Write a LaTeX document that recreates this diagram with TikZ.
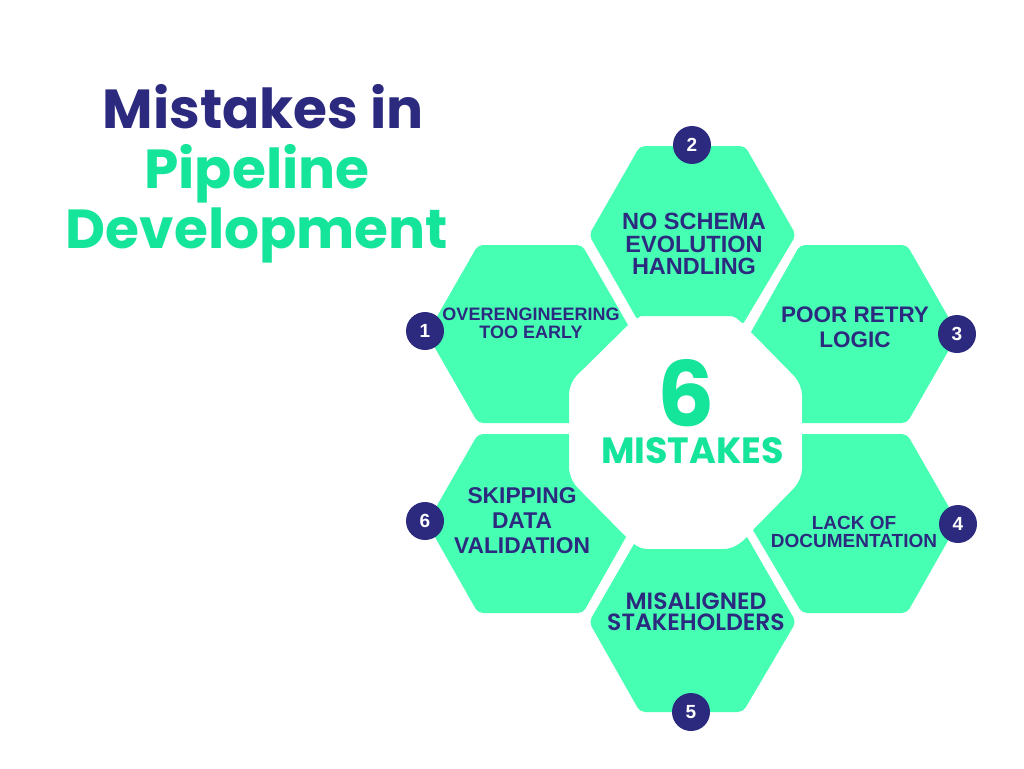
\documentclass[tikz,border=0pt]{standalone}
\usepackage{fontspec}
\setmainfont{Liberation Sans}
\newfontfamily\popfont{Poppins}
\newfontfamily\popmed{Poppins SemiBold}
\definecolor{mint}{HTML}{47FFB3}
\definecolor{navy}{HTML}{2C2A7F}
\definecolor{sea}{HTML}{14E59B}
\newcommand{\fsz}[2]{\fontsize{#1}{#2}\selectfont}
\tikzset{
  hexa/.style={fill=mint,draw=none},
  rc/.style={rounded corners=5pt},
  rcin/.style={rounded corners=11pt},
  badge/.style={circle,fill=navy,minimum size=38pt,inner sep=0pt,text=white,font=\bfseries\fsz{19}{19}},
  hextext/.style={text=navy,align=center,inner sep=0pt},
  titletext/.style={inner sep=0pt,anchor=base,font=\popfont\bfseries\fsz{55}{55}},
}
\begin{document}
\begin{tikzpicture}[x=1pt,y=-1pt]
\useasboundingbox (0,0) rectangle (1024,768);
\fill[white] (0,0) rectangle (1024,768);
% hexagons
\path[hexa] (530,245) [rc] -- (582,245) [sharp corners] -- (628,325) [rcin] -- (569,383) [sharp corners] -- (569,423) [rc] -- (478,423) -- (427,334) -- (478,245) -- cycle;
\path[hexa] (692,146) [rc] -- (745,146) -- (796,235) [rounded corners=2pt] -- (743,324) .. controls (738,319) and (734,316) .. (728,316) -- (643,316) .. controls (641,316) and (639,317) .. (637,319) [rc] -- (589,235) -- (640,146) -- cycle;
\path[hexa] (855,245) [rc] -- (907,245) -- (958,334) -- (907,423) [sharp corners] -- (802,423) [rcin] -- (802,384) [sharp corners] -- (751,332) [rc] -- (800,245) -- cycle;
\path[hexa] (855,434) [rc] -- (907,434) -- (958,523) -- (907,613) -- (802,613) [sharp corners] -- (753,530) [rcin] -- (802,480) [sharp corners] -- (802,434) -- cycle;
\path[hexa] (692,712) [rc] -- (640,712) -- (589,622) [sharp corners] -- (634,544) .. controls (638,547) and (642,549) .. (648,549) -- (723,549) .. controls (733,549) and (740,544) .. (747,537) [rc] -- (796,622) -- (743,712) -- cycle;
\path[hexa] (530,613) [rc] -- (478,613) -- (427,523) -- (478,434) [sharp corners] -- (569,434) [rcin] -- (569,479) [sharp corners] -- (626,537) [rc] -- (583,613) -- cycle;
% title
\node[titletext,text=navy] (t1) at (263,128) {Mistakes in};
\node[titletext,text=sea] (t2) at (257,188) {Pipeline};
\node[titletext,text=sea] (t3) at (257,248) {Development};
% centre
\node[inner sep=0pt,anchor=base,text=sea,font=\popfont\bfseries\fsz{90}{90}] (six) at (686.5,426) {6};
\node[inner sep=0pt,anchor=base,text=sea,font=\popfont\bfseries\fsz{36.5}{36.5}] (mist) at (692.5,463) {MISTAKES};
% labels
\node[hextext,font=\bfseries\fsz{18}{18}] (l1) at (531,323) {OVERENGINEERING\\TOO EARLY};
\node[hextext,font=\bfseries\fsz{23.5}{22.5}] (l2) at (694,244) {NO SCHEMA\\EVOLUTION\\HANDLING};
\node[hextext,font=\bfseries\fsz{22.5}{25}] (l3) at (855,327) {POOR RETRY\\LOGIC};
\node[hextext,font=\bfseries\fsz{19}{18}] (l4) at (854,532) {LACK OF\\DOCUMENTATION};
\node[hextext,font=\popmed\fsz{23.5}{21.5}] (l5) at (696,612) {MISALIGNED\\STAKEHOLDERS};
\node[hextext,font=\bfseries\fsz{22.8}{25}] (l6) at (522,521) {SKIPPING\\DATA\\VALIDATION};
% badges
\node[badge] (b1) at (425,331) {1};
\node[badge] (b2) at (692,145) {2};
\node[badge] (b3) at (957,334) {3};
\node[badge] (b4) at (958,524) {4};
\node[badge] (b5) at (691,712) {5};
\node[badge] (b6) at (425,521) {6};
\end{tikzpicture}
\end{document}
